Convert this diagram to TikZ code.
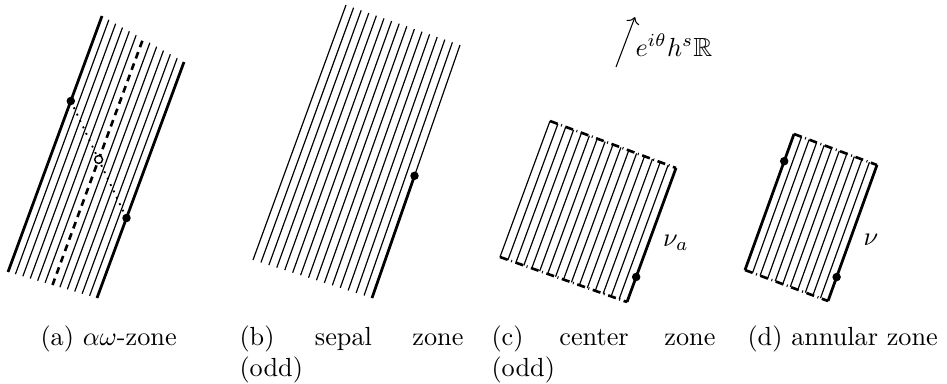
\documentclass[tikz,border=0pt]{standalone}
\usepackage{amsmath, amssymb}
\usepackage{tikz}
\usetikzlibrary{arrows.meta, calc}

\begin{document}
\begin{tikzpicture}[x=0.0134cm, y=-0.0134cm,
    leaf/.style={line width=0.45pt},
    rim/.style={line width=1.05pt},
    cut/.style={line width=1pt, dash pattern=on 3.1pt off 1.4pt on 0.35pt off 1.4pt},
    subcap/.style={anchor=base west, inner sep=0pt, align=left,
        font=\fontsize{10}{12}\selectfont}]
    \useasboundingbox (0,0) rectangle (947,383);

    % (a)
    \coordinate (aBL) at (8,272);
    \coordinate (aBR) at (97,298);
    \coordinate (aTL) at (102,16);
    \coordinate (aTR) at (184,62);
    \foreach \i in {1,2,3,4,5,7,8,9,10,11}
        \draw[leaf] ($(aBL)!\i/12!(aBR)$) -- ($(aTL)!\i/12!(aTR)$);
    \draw[rim] (aBL) -- (aTL);
    \draw[rim] (aBR) -- (aTR);
    \draw[line width=1pt, dash pattern=on 2.6pt off 2pt]
        ($(aBL)!0.5!(aBR)$) -- ($(aTL)!0.5!(aTR)$);
    \coordinate (aP) at ($(aBL)!0.668!(aTL)$);
    \coordinate (aQ) at ($(aBR)!0.339!(aTR)$);
    \coordinate (aM) at ($(aP)!0.5!(aQ)$);
    \draw[dotted, line width=0.7pt] (aP) -- (aQ);
    \filldraw (aP) circle (1.4pt);
    \filldraw (aQ) circle (1.4pt);
    \filldraw[fill=white, line width=0.55pt] (aM) circle (1.5pt);

    % (b)
    \coordinate (bBL) at (253,260);
    \coordinate (bBR) at (372,298);
    \coordinate (bTL) at (346,5);
    \coordinate (bTR) at (460,45);
    \foreach \i in {0,...,15}
        \draw[leaf] ($(bBL)!\i/15!(bBR)$) -- ($(bTL)!\i/15!(bTR)$);
    \coordinate (bP) at ($(bBR)!0.483!(bTR)$);
    \draw[rim] (bBR) -- (bP);
    \filldraw (bP) circle (1.4pt);

    % (c)
    \coordinate (cBL) at (500,257);
    \coordinate (cBR) at (627,302);
    \coordinate (cTL) at (550,121);
    \coordinate (cTR) at (676,168);
    \foreach \i in {0,...,15}
        \draw[leaf] ($(cBL)!\i/16!(cBR)$) -- ($(cTL)!\i/16!(cTR)$);
    \draw[rim] (cBR) -- (cTR);
    \draw[cut] (cTL) -- (cTR);
    \draw[cut] (cBL) -- (cBR);
    \coordinate (cP) at ($(cBR)!0.187!(cTR)$);
    \filldraw (cP) circle (1.4pt);
    \node (nuA) at (676,243) {$\nu_a$};

    % (d)
    \coordinate (dBL) at (745,270);
    \coordinate (dBR) at (828,301);
    \coordinate (dTL) at (794,134);
    \coordinate (dTR) at (877,165);
    \foreach \i in {1,...,10}
        \draw[leaf] ($(dBL)!\i/11!(dBR)$) -- ($(dTL)!\i/11!(dTR)$);
    \draw[rim] (dBL) -- (dTL);
    \draw[rim] (dBR) -- (dTR);
    \draw[cut] (dTL) -- (dTR);
    \draw[cut] (dBL) -- (dBR);
    \coordinate (dP) at ($(dBL)!0.80!(dTL)$);
    \coordinate (dQ) at ($(dBR)!0.176!(dTR)$);
    \filldraw (dP) circle (1.4pt);
    \filldraw (dQ) circle (1.4pt);
    \node (nu) at (871,240) {$\nu$};

    % direction
    \coordinate (dirS) at (616,67);
    \coordinate (dirE) at (635,17);
    \draw[->] (dirS) -- (dirE);
    \node[anchor=west, inner sep=0pt] (dirL) at (635,45) {$e^{i\theta}h^s\mathbb{R}$};

    % captions
    \node[subcap] (capA) at (40,345) {(a) $\alpha\omega$-zone};
    \node[subcap, text width=3.0cm] (capB) at (239,345) {(b)\hfill sepal\hfill zone\\(odd)};
    \node[subcap, text width=3.0cm] (capC) at (491,345) {(c)\hfill center\hfill zone\\(odd)};
    \node[subcap] (capD) at (747,345) {(d) annular zone};
\end{tikzpicture}
\end{document}
